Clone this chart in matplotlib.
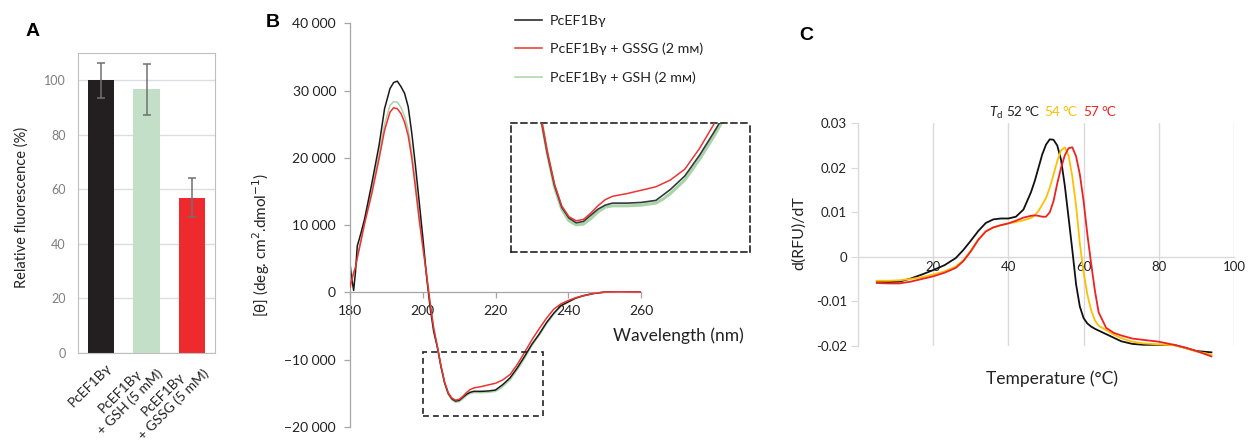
import numpy as np
import matplotlib
matplotlib.use('Agg')
import matplotlib.pyplot as plt
import matplotlib.transforms as mtransforms
from matplotlib.lines import Line2D
from matplotlib.patches import Rectangle

plt.rcParams['font.family'] = ['Lato', 'DejaVu Sans']

W, H = 1249, 444

# --- A: relative fluorescence ---
samples = ['PcEF1Bγ', 'PcEF1Bγ\n+ GSH (5 mM)', 'PcEF1Bγ\n+ GSSG (5 mM)']
fluor = [100.0, 96.7, 57.0]
fluor_err = [6.5, 9.3, 7.0]
bar_colors = ['#231f20', '#c4dfc7', '#ee2a2e']

# --- B: CD spectra ---
wl = [180, 180.5, 181, 181.5, 182, 183, 184, 186, 188, 189.5, 191, 192, 193, 194, 195,
      196, 197, 198, 199, 200, 201, 202, 203, 204, 205, 206, 207, 208, 209, 210, 211,
      212, 213, 214, 216, 218, 220, 221, 222, 224, 226, 228, 230, 232, 234, 236, 238,
      240, 242, 244, 247, 250, 254, 260]
cd_native = [4300, 2000, 300, 3000, 6900, 8800, 10900, 16200, 21900, 27300, 30300, 31200,
             31400, 30600, 29600, 27600, 23600, 18800, 13600, 8300, 2600, -2100, -5800,
             -8100, -11000, -13400, -15000, -15800, -16150, -16050, -15600, -15150, -14850,
             -14700, -14700, -14650, -14500, -14100, -13700, -12700, -11200, -9500, -7700,
             -6200, -4500, -3100, -1950, -1400, -850, -500, -150, 50, 100, 50]
cd_gssg = [800, 1900, 2900, 3700, 5100, 7600, 10200, 14700, 19900, 24100, 26800, 27450,
           27300, 26600, 25300, 23300, 19900, 15500, 10900, 6800, 2800, -1500, -5300,
           -8000, -10900, -13300, -14900, -15700, -16000, -15900, -15450, -14900, -14450,
           -14200, -14000, -13750, -13500, -13250, -13000, -12200, -10700, -8900, -7050,
           -5400, -3850, -2500, -1700, -1200, -800, -500, -150, 50, 100, 50]
cd_gsh = [900, 1900, 2900, 3800, 5300, 7900, 10500, 15200, 20600, 25000, 27800, 28350,
          28300, 27500, 26200, 24200, 20800, 16300, 11600, 7400, 3100, -1300, -5200,
          -8000, -11000, -13500, -15150, -16000, -16300, -16250, -15850, -15350, -15000,
          -14900, -14900, -14850, -14700, -14400, -14000, -13000, -11500, -9800, -7900,
          -6400, -4700, -3250, -2100, -1450, -900, -550, -180, 30, 80, 30]
cd_labels = ['PcEF1Bγ', 'PcEF1Bγ + GSSG (2 mм)', 'PcEF1Bγ + GSH (2 mм)']

# --- C: thermal shift, first derivative ---
temp = [5, 8, 11, 14, 17, 20, 23, 26, 28, 30, 32, 34, 36, 38, 40, 42, 44, 46, 47, 48,
        49, 50, 51, 52, 53, 54, 55, 56, 57, 58, 59, 60, 61, 62, 63, 64, 66, 68, 70, 73,
        76, 80, 84, 87, 90, 94]
dsf_52 = [-0.0056, -0.0057, -0.0056, -0.0049, -0.0040, -0.0030, -0.0019, -0.0003, 0.0015,
          0.0036, 0.0058, 0.0076, 0.0084, 0.0086, 0.0086, 0.0090, 0.0106, 0.0145, 0.0170,
          0.0200, 0.0230, 0.0252, 0.0264, 0.0263, 0.0250, 0.0218, 0.0160, 0.0088, 0.0015,
          -0.0062, -0.0112, -0.0138, -0.0150, -0.0157, -0.0162, -0.0166, -0.0174, -0.0182,
          -0.0190, -0.0196, -0.0198, -0.0198, -0.0198, -0.0205, -0.0212, -0.0215]
dsf_54 = [-0.0054, -0.0054, -0.0053, -0.0050, -0.0046, -0.0040, -0.0033, -0.0022, -0.0008,
          0.0014, 0.0039, 0.0057, 0.0066, 0.0071, 0.0075, 0.0078, 0.0082, 0.0087, 0.0093,
          0.0103, 0.0117, 0.0132, 0.0155, 0.0185, 0.0215, 0.0239, 0.0246, 0.0228, 0.0180,
          0.0115, 0.0030, -0.0035, -0.0085, -0.0120, -0.0143, -0.0155, -0.0165, -0.0175,
          -0.0183, -0.0191, -0.0195, -0.0197, -0.0199, -0.0205, -0.0213, -0.0220]
dsf_57 = [-0.0059, -0.0060, -0.0060, -0.0056, -0.0050, -0.0044, -0.0036, -0.0025, -0.0010,
          0.0012, 0.0038, 0.0057, 0.0066, 0.0071, 0.0075, 0.0081, 0.0088, 0.0092, 0.0093,
          0.0092, 0.0090, 0.0090, 0.0100, 0.0125, 0.0165, 0.0200, 0.0228, 0.0244, 0.0246,
          0.0226, 0.0185, 0.0125, 0.0050, -0.0015, -0.0076, -0.0125, -0.0160, -0.0171,
          -0.0177, -0.0184, -0.0187, -0.0191, -0.0198, -0.0204, -0.0212, -0.0224]
td_values = [52, 54, 57]
dsf_colors = ['#111111', '#ffc000', '#ee2222']
td_colors = ['#222222', '#ffc000', '#ee2222']


def box(l, t, r, b):
    # pixel edges -> figure fraction rect
    return [l / W, 1 - b / H, (r - l) / W, (b - t) / H]


fig = plt.figure(figsize=(W / 100, H / 100), dpi=100)

# ---------------- A ----------------
axA = fig.add_axes(box(78, 53, 215, 353))
x = np.arange(len(samples))
axA.bar(x, fluor, width=0.57, color=bar_colors, zorder=2)
axA.errorbar(x, fluor, yerr=fluor_err, fmt='none', ecolor='#707070', elinewidth=1.1,
             capsize=2.8, capthick=1.1, zorder=3)
axA.set_xlim(-0.5, 2.5)
axA.set_ylim(0, 110)
axA.set_yticks(range(0, 101, 20))
axA.grid(axis='y', color='#dcdce4', lw=1.0, zorder=0)
for s in axA.spines.values():
    s.set_color('#bfbfbf')
axA.tick_params(axis='y', length=0, pad=9, labelsize=9, labelcolor='#7f7f7f')
axA.tick_params(axis='x', length=0, pad=9.4)
axA.set_xticks(x)
axA.set_xticklabels(samples, rotation=45, ha='right', va='center', rotation_mode='anchor',
                    multialignment='center', fontsize=10, color='#222222',
                    linespacing=1.25)
shift = mtransforms.ScaledTranslation(9 / 100, 0, fig.dpi_scale_trans)
for lab in axA.get_xticklabels():
    lab.set_transform(lab.get_transform() + shift)
axA.set_ylabel('Relative fluorescence (%)', fontsize=10.5, color='#222222')
axA.yaxis.set_label_coords(-0.361, 0.485)

# ---------------- B ----------------
axB = fig.add_axes(box(350, 23.3, 641, 427))
axB.plot(wl, cd_gsh, color='#a9d4a5', lw=1.1, zorder=1)
axB.plot(wl, cd_native, color='#1a1a1a', lw=1.1, zorder=2)
axB.plot(wl, cd_gssg, color='#ee3333', lw=1.1, zorder=3)
axB.set_xlim(180, 260)
axB.set_ylim(-20000, 40000)
axB.spines['top'].set_visible(False)
axB.spines['right'].set_visible(False)
axB.spines['bottom'].set_position(('data', 0))
for s in ('left', 'bottom'):
    axB.spines[s].set_color('#a6a6a6')
    axB.spines[s].set_linewidth(0.9)
axB.set_xticks(range(180, 261, 20))
axB.set_yticks(range(-20000, 40001, 10000))
axB.set_yticklabels([f'{v:,}'.replace(',', ' ').replace('-', '\u2212') for v in range(-20000, 40001, 10000)])
axB.tick_params(axis='both', length=4, width=0.9, color='#a6a6a6', labelsize=10,
                labelcolor='#222222')
axB.tick_params(axis='y', pad=6)
axB.tick_params(axis='x', pad=5)
axB.set_ylabel('[θ] (deg. cm$^{2}$.dmol$^{\u22121}$)', fontsize=11, color='#222222')
axB.yaxis.set_label_coords(-0.268, 0.45)
axB.text(1.13, 0.225, 'Wavelength (nm)', transform=axB.transAxes, ha='center',
         va='center', fontsize=12.5, color='#222222', clip_on=False)
axB.add_patch(Rectangle((200, -18300), 33, 9500, fill=False, ls=(0, (3.5, 2.5)),
                        lw=1.2, ec='#222222', zorder=4))

handles = [Line2D([], [], color='#1a1a1a', lw=1.1),
           Line2D([], [], color='#ee3333', lw=1.1),
           Line2D([], [], color='#a9d4a5', lw=1.1)]
fig.legend(handles, cd_labels, loc='upper left', bbox_to_anchor=(515 / W, 1 - 15 / H),
           frameon=False, fontsize=10.3, handlelength=1.9, handletextpad=0.55,
           labelspacing=1.1, borderpad=0, borderaxespad=0, labelcolor='#222222')

# zoomed trough
axI = fig.add_axes(box(511, 123, 750, 252))
axI.plot(wl, cd_gsh, color='#a9d4a5', lw=2.2, zorder=1)
axI.plot(wl, cd_native, color='#333a40', lw=1.2, zorder=2)
axI.plot(wl, cd_gssg, color='#ee3333', lw=1.1, zorder=3)
axI.set_xlim(200, 233)
axI.set_ylim(-18300, -8800)
axI.set_xticks([])
axI.set_yticks([])
for s in axI.spines.values():
    s.set_linestyle((0, (3.5, 2.5)))
    s.set_color('#222222')
    s.set_linewidth(1.2)

# ---------------- C ----------------
axC = fig.add_axes(box(858, 123.3, 1234, 345.7))
for curve, c in zip([dsf_52, dsf_54, dsf_57], dsf_colors):
    axC.plot(temp, curve, color=c, lw=1.3, zorder=3, clip_on=False)
axC.set_xlim(0, 100)
axC.set_ylim(-0.02, 0.03)
axC.set_xticks(range(20, 101, 20))
axC.set_yticks([-0.02, -0.01, 0, 0.01, 0.02, 0.03])
axC.set_yticklabels(['-0.02', '-0.01', '0', '0.01', '0.02', '0.03'])
axC.grid(axis='x', color='#d9d9e0', lw=1.0, zorder=0)
axC.spines['top'].set_visible(False)
axC.spines['right'].set_visible(False)
axC.spines['bottom'].set_position(('data', 0))
axC.spines['bottom'].set_color('#d9d9e0')
axC.spines['bottom'].set_linewidth(1.0)
axC.spines['left'].set_color('#d9d9e0')
axC.spines['left'].set_linewidth(1.0)
axC.tick_params(axis='y', length=5, color='#d9d9e0', pad=3, labelsize=9.5,
                labelcolor='#222222')
axC.tick_params(axis='x', length=0, pad=3, labelsize=9.5, labelcolor='#222222')
axC.set_ylabel('d(RFU)/dT', fontsize=11.5, color='#222222')
axC.yaxis.set_label_coords(-0.138, 0.507)
axC.set_xlabel('Temperature (°C)', fontsize=12.5, color='#222222')
axC.xaxis.set_label_coords(0.516, -0.113)

# melting temperature note
r = fig.canvas.get_renderer()
yp = 1 - 112 / H
t = fig.text(989 / W, yp, 'T', style='italic', fontsize=9.8, color='#222222', va='center')
xp = t.get_window_extent(r).x1 + 0.3
t = fig.text(xp / W, yp - 4 / H, 'd', fontsize=7, color='#222222', va='center')
xp = t.get_window_extent(r).x1 + 3.5
for v, c in zip(td_values, td_colors):
    t = fig.text(xp / W, yp, str(v), fontsize=9.8, color=c, va='center')
    xp = t.get_window_extent(r).x1 + 2.5
    t = fig.text(xp / W, yp, '°C', fontsize=9.8, color=c, va='center')
    xp = t.get_window_extent(r).x1 + 5.5

# panel letters
for lbl, px, py in [('A', 32.5, 31.5), ('B', 273, 22.5), ('C', 806, 35)]:
    fig.text(px / W, 1 - py / H, lbl, fontsize=14, fontweight='bold',
             family=['Liberation Sans', 'DejaVu Sans'], ha='center', va='center')

fig.savefig('out.png', dpi=100)
